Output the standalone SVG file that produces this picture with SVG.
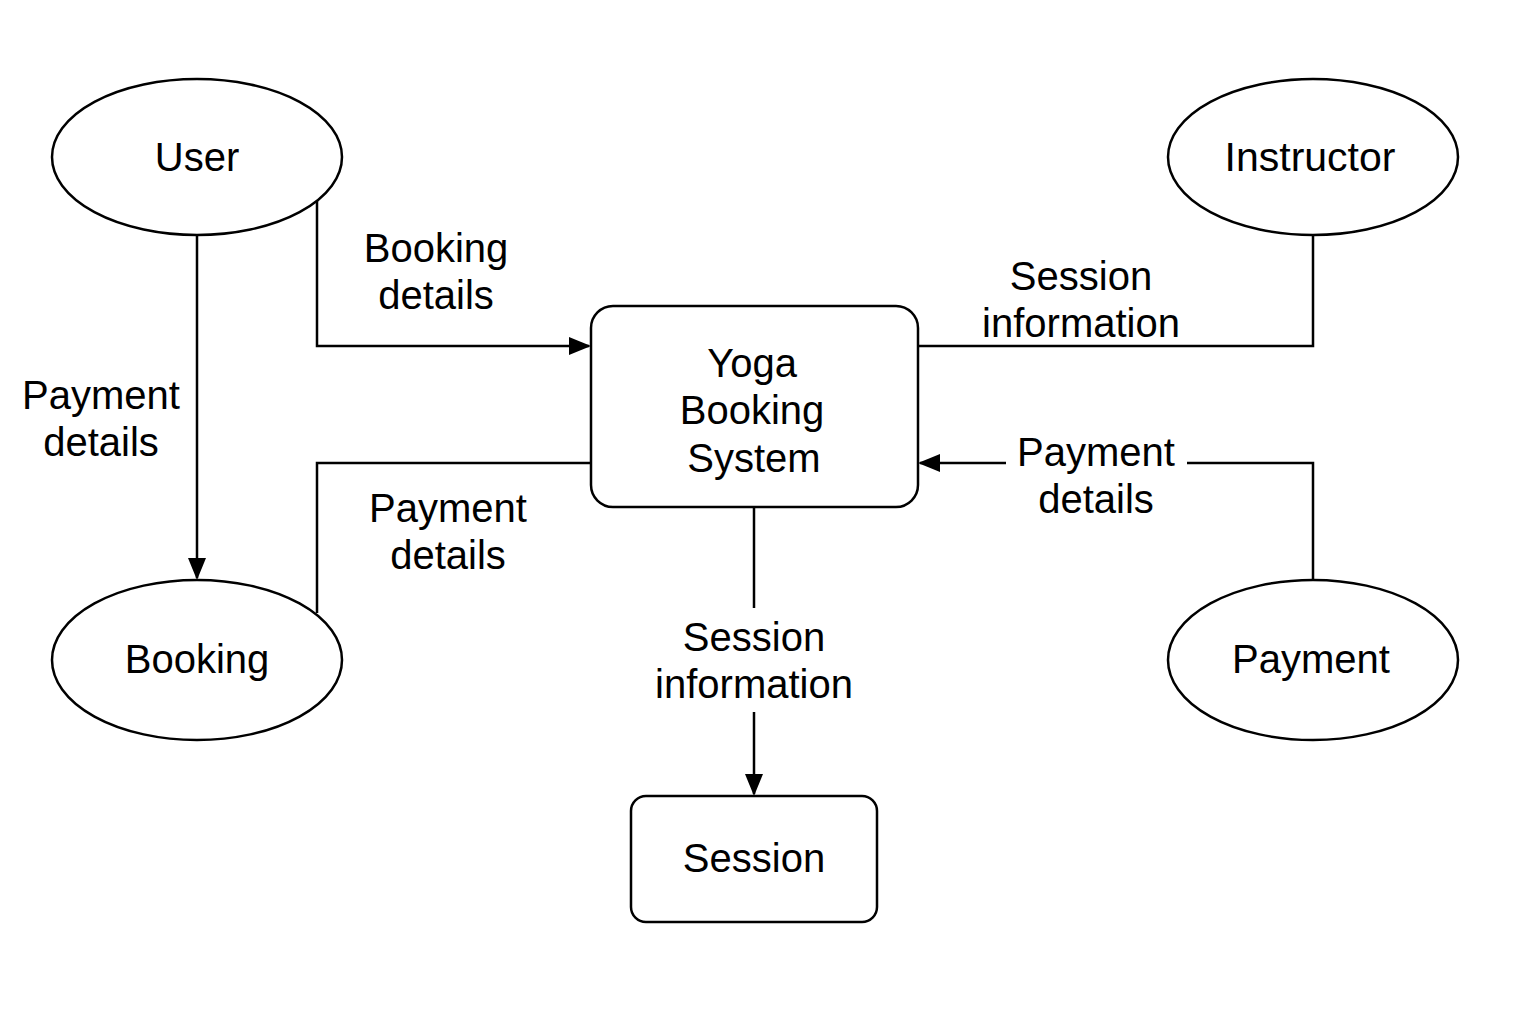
<svg xmlns="http://www.w3.org/2000/svg" width="1536" height="1024" viewBox="0 0 1536 1024">
<defs>
<marker id="arr" markerWidth="22" markerHeight="18" refX="20" refY="9" orient="auto" markerUnits="userSpaceOnUse">
<path d="M0,0 L22,9 L0,18 Z" fill="#000"/>
</marker>
<style>
.shape{fill:#fff;stroke:#000;stroke-width:2.5}
.line{fill:none;stroke:#000;stroke-width:2.5}
text{font-family:"Liberation Sans",Arial,sans-serif;font-size:40px;fill:#000;text-anchor:middle}
</style>
</defs>
<rect width="1536" height="1024" fill="#fff"/>
<g id="connectors">
<path class="line" d="M197,236 V578" marker-end="url(#arr)"/>
<path class="line" d="M317,201 V346 H589" marker-end="url(#arr)"/>
<path class="line" d="M317,613 V463 H591"/>
<path class="line" d="M1313,236 V346 H918"/>
<path class="line" d="M1313,580 V463 H1187"/>
<path class="line" d="M1006,463 H920" marker-end="url(#arr)"/>
<path class="line" d="M754,507 V608"/>
<path class="line" d="M754,712 V794" marker-end="url(#arr)"/>
<text x="101" y="409">Payment</text>
<text x="101" y="456">details</text>
<text x="436" y="262">Booking</text>
<text x="436" y="309">details</text>
<text x="448" y="522">Payment</text>
<text x="448" y="569">details</text>
<text x="1081" y="290">Session</text>
<text x="1081" y="337">information</text>
<text x="1096" y="466">Payment</text>
<text x="1096" y="513">details</text>
<text x="754" y="651">Session</text>
<text x="754" y="698">information</text>
</g>
<g id="user">
<ellipse class="shape" cx="197" cy="157" rx="145" ry="78"/>
<text x="197" y="171">User</text>
</g>
<g id="instructor">
<ellipse class="shape" cx="1313" cy="157" rx="145" ry="78"/>
<text x="1310" y="171" style="font-size:41px">Instructor</text>
</g>
<g id="booking">
<ellipse class="shape" cx="197" cy="660" rx="145" ry="80"/>
<text x="197" y="673">Booking</text>
</g>
<g id="payment">
<ellipse class="shape" cx="1313" cy="660" rx="145" ry="80"/>
<text x="1311" y="673">Payment</text>
</g>
<g id="yoga-booking-system">
<rect class="shape" x="591" y="306" width="327" height="201" rx="22"/>
<text x="752" y="377">Yoga</text>
<text x="752" y="424">Booking</text>
<text x="754" y="472">System</text>
</g>
<g id="session">
<rect class="shape" x="631" y="796" width="246" height="126" rx="15"/>
<text x="754" y="872">Session</text>
</g>
</svg>
